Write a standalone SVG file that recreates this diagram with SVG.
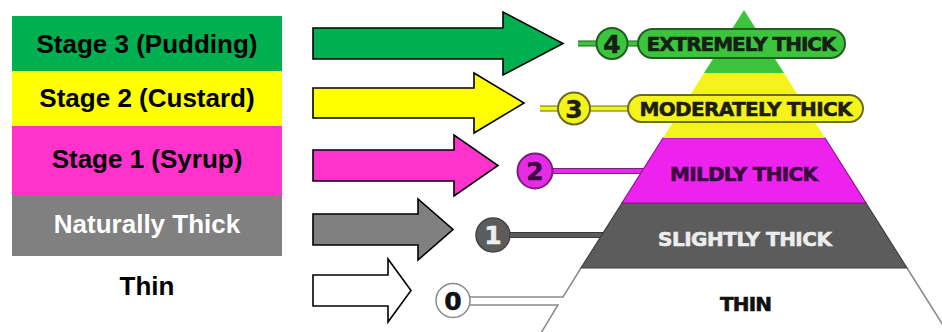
<svg xmlns="http://www.w3.org/2000/svg" width="942" height="332" viewBox="0 0 942 332">
<style>
.lbl{font-family:"Liberation Sans",Arial,sans-serif;font-weight:bold;font-size:26px;text-anchor:middle;fill:#000}
.arrow{stroke:#000;stroke-width:1.6;stroke-linejoin:miter}
.pt{font-family:"DejaVu Sans",sans-serif;font-weight:bold;font-size:20px;text-anchor:middle;stroke-width:0.6}
.num{font-family:"DejaVu Sans",sans-serif;font-weight:bold;font-size:25px;text-anchor:middle;stroke-width:0.5}
.cl{fill:none;stroke-linecap:butt}
</style>
<rect width="942" height="332" fill="#fff"/>

<g id="stage3"><rect x="12" y="16" width="270" height="55" fill="#00b050"/><text class="lbl" x="147" y="53">Stage 3 (Pudding)</text></g>
<g id="stage2"><rect x="12" y="71" width="270" height="55" fill="#ffff00"/><text class="lbl" x="147" y="107">Stage 2 (Custard)</text></g>
<g id="stage1"><rect x="12" y="126" width="270" height="69" fill="#ff33cc"/><text class="lbl" x="147" y="168">Stage 1 (Syrup)</text></g>
<g id="natural"><rect x="12" y="195" width="270" height="61" fill="#808080"/><text class="lbl" x="147" y="233" style="fill:#fff">Naturally Thick</text></g>
<g id="thin"><text class="lbl" x="147" y="295">Thin</text></g>

<g id="connectors">
<path class="arrow" fill="#00b050" d="M313,28 H503 V12 L563,43.5 L503,75 V59 H313 Z"/>
<path class="arrow" fill="#ffff00" d="M313,88 H474 V73 L524,103 L474,133 V118 H313 Z"/>
<path class="arrow" fill="#ff33cc" d="M313,150 H454 V135 L498,165.5 L454,196 V181 H313 Z"/>
<path class="arrow" fill="#808080" d="M313,214 H418 V199 L453,229.5 L418,260 V245 H313 Z"/>
<path class="arrow" fill="#ffffff" d="M313,275 H388 V259 L411,290.5 L388,322 V306 H313 Z"/>
<line class="cl" x1="535" y1="171" x2="660" y2="171" stroke="#7a1f7a" stroke-width="6"/>
<line class="cl" x1="535" y1="171" x2="660" y2="171" stroke="#e52be5" stroke-width="4"/>
<line class="cl" x1="493" y1="235" x2="615" y2="235" stroke="#3a3a3a" stroke-width="6"/>
<line class="cl" x1="493" y1="235" x2="615" y2="235" stroke="#5c5c5c" stroke-width="4"/>
</g>

<g id="level-thin">
<polygon points="581,268 907,268 948,333 540,333" fill="#fff"/>
<path d="M907,268 L948,333 M581,268 L563,297 H465 M465,305 H558 L541,333" fill="none" stroke="#8a8a8a" stroke-width="1.5"/>
<text class="pt" x="746" y="311" textLength="52" style="fill:#111;stroke:#111">THIN</text>
</g>
<g id="level-slightly">
<polygon points="622,203 866,203 907,268 581,268" fill="#5c5c5c" stroke="#3e3e3e" stroke-width="1.2"/>
<text class="pt" x="745" y="246" textLength="174" style="fill:#ececec;stroke:#ececec">SLIGHTLY THICK</text>
</g>
<g id="level-mildly">
<polygon points="663,138 825,138 866,203 622,203" fill="#ee22ee" stroke="#8a1a8a" stroke-width="1.2"/>
<text class="pt" x="744" y="181" textLength="148" style="fill:#3a0a40;stroke:#3a0a40">MILDLY THICK</text>
</g>
<g id="level-moderately">
<polygon points="704,73 784,73 825,138 663,138" fill="#f4f41c"/>
<line class="cl" x1="540" y1="108.5" x2="640" y2="108.5" stroke="#6b6b1a" stroke-width="6"/>
<line class="cl" x1="540" y1="108.5" x2="640" y2="108.5" stroke="#f4f41c" stroke-width="4"/>
<rect x="628" y="95" width="235" height="27" rx="13.5" fill="#f4f41c" stroke="#6b6b1a" stroke-width="2"/>
<text class="pt" x="746" y="115.5" textLength="213" style="fill:#1e1e10;stroke:#1e1e10">MODERATELY THICK</text>
</g>
<g id="level-extremely">
<polygon points="744,10 784,73 704,73" fill="#3dc43d"/>
<line class="cl" x1="578" y1="43.5" x2="645" y2="43.5" stroke="#1f5f1f" stroke-width="6"/>
<line class="cl" x1="578" y1="43.5" x2="645" y2="43.5" stroke="#3dc43d" stroke-width="4"/>
<rect x="638" y="29" width="207" height="29" rx="14.5" fill="#3dc43d" stroke="#1f5f1f" stroke-width="2"/>
<text class="pt" x="741.5" y="50.5" textLength="190" style="fill:#142014;stroke:#142014">EXTREMELY THICK</text>
</g>

<g id="badge-4"><circle cx="612" cy="43.5" r="15.5" fill="#3dc43d" stroke="#1f5f1f" stroke-width="2"/><text class="num" x="612" y="52.5" style="fill:#142014;stroke:#142014">4</text></g>
<g id="badge-3"><circle cx="574" cy="108.5" r="16" fill="#f4f41c" stroke="#6b6b1a" stroke-width="2"/><text class="num" x="574" y="117.5" style="fill:#1e1e10;stroke:#1e1e10">3</text></g>
<g id="badge-2"><circle cx="535" cy="171" r="17.5" fill="#e52be5" stroke="#7a1f7a" stroke-width="2"/><text class="num" x="535" y="180" style="fill:#3a0a40;stroke:#3a0a40">2</text></g>
<g id="badge-1"><circle cx="493" cy="235" r="17" fill="#5c5c5c" stroke="#444" stroke-width="1.5"/><text class="num" x="493" y="244" style="fill:#eeeeee;stroke:#eeeeee">1</text></g>
<g id="badge-0"><circle cx="453" cy="300.5" r="17" fill="#fff" stroke="#8a8a8a" stroke-width="1.5"/><text class="num" x="453" y="309.5" style="fill:#111;stroke:#111">0</text></g>
</svg>
